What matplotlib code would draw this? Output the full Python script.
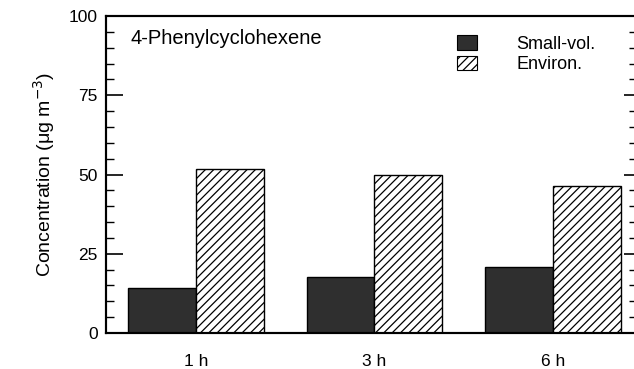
import numpy as np
import matplotlib
matplotlib.use('Agg')
import matplotlib.pyplot as plt
from matplotlib.patches import Patch
from matplotlib.ticker import MultipleLocator

plt.rcParams['font.family'] = ['Liberation Sans', 'DejaVu Sans']
plt.rcParams['hatch.linewidth'] = 0.9

times = ['1 h', '3 h', '6 h']
small_vol = [14.2, 17.7, 20.9]
environ = [51.6, 50.0, 46.5]
series_names = ['Small-vol.', 'Environ.']
compound = '4-Phenylcyclohexene'

x = np.arange(len(times))
w = 0.38

fig = plt.figure(figsize=(6.34, 3.69), dpi=100, facecolor='white')
ax = fig.add_axes([0.167, 0.0976, 0.836, 0.859])

ax.bar(x - w / 2, small_vol, w, color='#2f2f2f', edgecolor='black', linewidth=1.0)
ax.bar(x + w / 2, environ, w, color='white', edgecolor='black', linewidth=1.0, hatch='////')

ax.set_xlim(-0.504, 2.465)
ax.set_ylim(0, 100)
ax.set_xticks(x)
ax.set_xticklabels(times, fontsize=12.5)
ax.tick_params(axis='x', length=0, pad=15)

ax.yaxis.set_major_locator(MultipleLocator(25))
ax.yaxis.set_minor_locator(MultipleLocator(5))
ax.tick_params(axis='y', which='major', direction='in', length=12, width=1.2, labelsize=12.5, pad=6)
ax.tick_params(axis='y', which='minor', direction='in', length=6, width=1.0)
ax.set_ylabel('Concentration (μg m$^{-3}$)', fontsize=14, labelpad=8)

# right-hand axis carries ticks only
ax2 = ax.twinx()
ax2.set_ylim(0, 100)
ax2.yaxis.set_major_locator(MultipleLocator(25))
ax2.yaxis.set_minor_locator(MultipleLocator(5))
ax2.tick_params(axis='y', which='major', direction='in', length=9, width=1.2, labelright=False)
ax2.tick_params(axis='y', which='minor', direction='in', length=5, width=1.0)

for a in (ax, ax2):
    for s in a.spines.values():
        s.set_linewidth(1.5)

ax.text(0.047, 0.93, compound, transform=ax.transAxes, fontsize=14.5, va='center', ha='left')

handles = [Patch(facecolor='#2f2f2f', edgecolor='black', linewidth=0.8),
           Patch(facecolor='white', edgecolor='black', linewidth=0.8, hatch='////')]
ax.legend(handles, series_names, loc='upper left', bbox_to_anchor=(0.632, 0.99),
          frameon=False, fontsize=13, handlelength=1.1, handleheight=0.85,
          handletextpad=2.2, labelspacing=0.15)

fig.savefig('out.png', dpi=100)
